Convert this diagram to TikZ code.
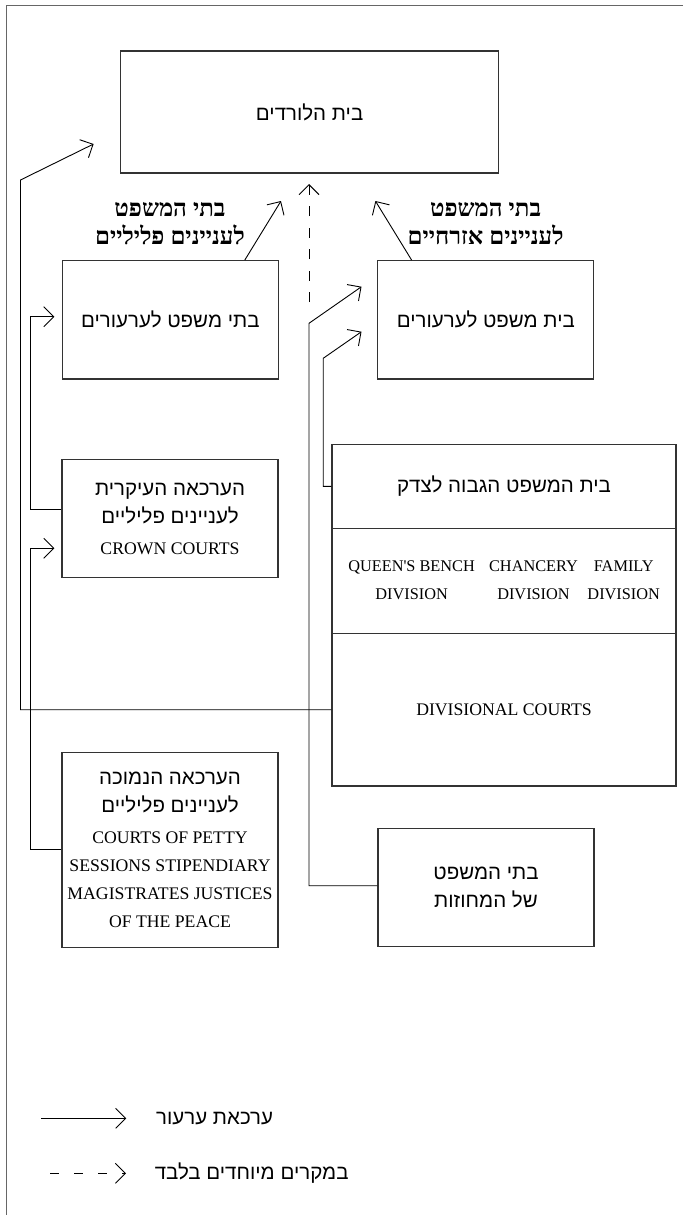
\documentclass[tikz,border=0pt]{standalone}
\usepackage{fontspec}
\TeXXeTstate=1
\newfontfamily\hebfont[Script=Hebrew]{Liberation Sans}
\newfontfamily\hebbold[Script=Hebrew]{Liberation Serif Bold}
\newfontfamily\engfont{Liberation Serif}
\usetikzlibrary{arrows.meta}
\definecolor{boxc}{gray}{0.2}
\definecolor{framec}{gray}{0.4}
\newcommand{\heb}[1]{{\hebfont\beginR #1\endR}}
\newcommand{\hebb}[1]{{\hebbold\beginR #1\endR}}
\newcommand{\eng}[1]{{\engfont\fontsize{17.7}{27}\selectfont #1}}
\newcommand{\engs}[1]{{\engfont\fontsize{16.3}{27}\selectfont #1}}
\tikzset{
  courtbox/.style={draw=boxc, line width=1.2pt, inner sep=0pt, align=center,
    font=\fontsize{20.5}{28}\selectfont},
  txt/.style={inner sep=0pt, align=center, font=\fontsize{20.5}{28}\selectfont},
  lbl/.style={inner sep=0pt, align=center, font=\fontsize{24}{28}\selectfont},
  arr/.style={line width=0.9pt, -{Straight Barb[length=10pt,width=20pt,line width=0.9pt]}},
  darr/.style={arr, dash pattern=on 10pt off 11.5pt},
}
\begin{document}
\begin{tikzpicture}[x=1pt,y=-1pt]
\useasboundingbox (0,0) rectangle (683,1215);
\draw[framec, line width=1.3pt] (683,5.2) -- (6.5,5.2) -- (6.5,1215);

% boxes
\node[courtbox, minimum width=378pt, minimum height=122pt] (lords) at (309.6,112) {\heb{בית הלורדים}};
\node[courtbox, minimum width=216pt, minimum height=118.3pt] (crimapp) at (170.3,319.8) {\heb{בתי משפט לערעורים}};
\node[courtbox, minimum width=216pt, minimum height=118.3pt] (civapp) at (485.8,319.8) {\heb{בית משפט לערעורים}};
\node[courtbox, minimum width=216pt, minimum height=118.4pt] (crown) at (170,518.5)
  {\heb{הערכאה העיקרית}\\\heb{לעניינים פליליים}\\[3pt]\eng{CROWN COURTS}};
\node[courtbox, minimum width=344pt, minimum height=84pt] (hctop) at (504,486.3) {\heb{בית המשפט הגבוה לצדק}};
\node[courtbox, minimum width=344pt, minimum height=105pt] (hcdiv) at (504,580.8) {};
\node[courtbox, minimum width=344pt, minimum height=152.7pt] (hcdc) at (504,709.7) {\eng{DIVISIONAL COURTS}};
\node[txt] (qb) at (411.6,580.5) {\engs{QUEEN'S BENCH}\\\engs{DIVISION}};
\node[txt] (chan) at (533.5,580.5) {\engs{CHANCERY}\\\engs{DIVISION}};
\node[txt] (fam) at (623.7,580.5) {\engs{FAMILY}\\\engs{DIVISION}};
\node[courtbox, minimum width=216pt, minimum height=195.7pt] (petty) at (170,850)
  {\heb{הערכאה הנמוכה}\\\heb{לעניינים פליליים}\\[3pt]\eng{COURTS OF PETTY}\\\eng{SESSIONS STIPENDIARY}\\\eng{MAGISTRATES JUSTICES}\\\eng{OF THE PEACE}};
\node[courtbox, minimum width=216pt, minimum height=118.4pt] (district) at (486,887.5)
  {\heb{בתי המשפט}\\\heb{של המחוזות}};

% labels
\node[lbl] (crimlbl) at (170,224) {\hebb{בתי המשפט}\\\hebb{לעניינים פליליים}};
\node[lbl] (civlbl) at (485.6,224) {\hebb{בתי המשפט}\\\hebb{לעניינים אזרחיים}};

% connector coordinates
\coordinate (lc1) at (20.5,180);
\coordinate (lt1) at (93.6,144);
\coordinate (cc1) at (30.5,316.7);
\coordinate (ct1) at (54.4,316.7);
\coordinate (pc1) at (30.5,548.3);
\coordinate (pt1) at (54.4,548.3);
\coordinate (ca1) at (281,201);
\coordinate (cv1) at (375.4,201);
\coordinate (dc1) at (309,323.3);
\coordinate (dt1) at (361.5,286.7);
\coordinate (hc1) at (323.2,358.3);
\coordinate (ht1) at (361.5,331.7);
\coordinate (ds) at (309,302);
\coordinate (dtip) at (309,184);

% connectors
\draw[arr] (hcdc.west) -| (lc1) -- (lt1);
\draw[arr] ([yshift=9.2pt]crown.west) -| (cc1) -- (ct1);
\draw[arr] ([yshift=0.7pt]petty.west) -| (pc1) -- (pt1);
\draw[arr] ([xshift=74.5pt]crimapp.north) -- (ca1);
\draw[arr] ([xshift=-74.2pt]civapp.north) -- (cv1);
\draw[arr] ([yshift=1.8pt]district.west) -| (dc1) -- (dt1);
\draw[arr] (hctop.west) -| (hc1) -- (ht1);
\draw[darr] (ds) -- (dtip);

% legend
\coordinate (la) at (41.4,1118.3);
\coordinate (lb) at (126.3,1118.3);
\coordinate (lc) at (50,1173.3);
\coordinate (ld) at (126,1173.3);
\draw[arr] (la) -- (lb);
\draw[arr, dash pattern=on 8.7pt off 15.3pt] (lc) -- (ld);
\node[txt, anchor=west] (leg1) at (156,1118.3) {\heb{ערכאת ערעור}};
\node[txt, anchor=west] (leg2) at (154.6,1173.3) {\heb{במקרים מיוחדים בלבד}};
\end{tikzpicture}
\end{document}
